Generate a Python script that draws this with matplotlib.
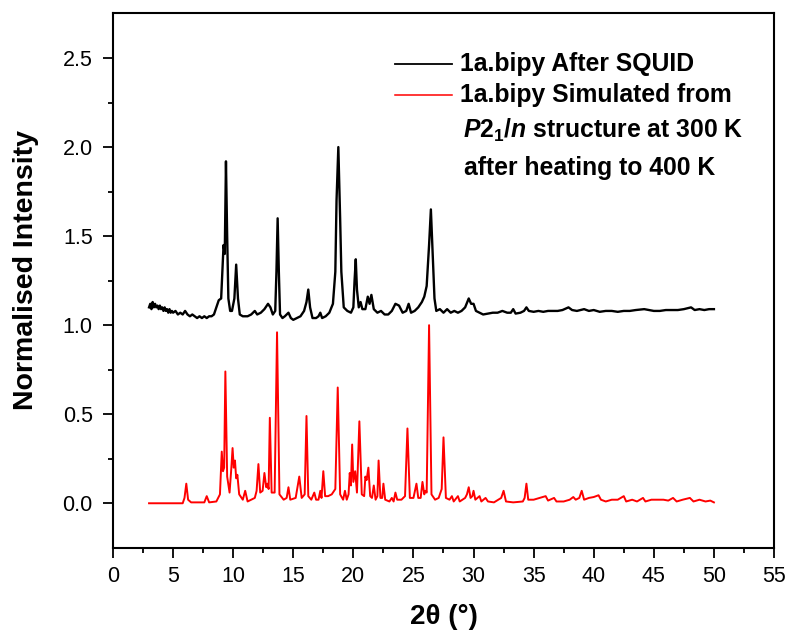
import matplotlib

matplotlib.use("Agg")
import matplotlib.pyplot as plt
import numpy as np

plt.rcParams["font.family"] = ["Liberation Sans", "DejaVu Sans"]
plt.rcParams["mathtext.fontset"] = "custom"
plt.rcParams["mathtext.it"] = "Liberation Sans:italic:bold"
plt.rcParams["mathtext.rm"] = "Liberation Sans:bold"

# measured pattern, 1a.bipy after SQUID (offset by ~1.1)
black_pts = [
    (3.0, 1.10), (3.1, 1.12), (3.2, 1.09), (3.3, 1.13), (3.4, 1.10), (3.5, 1.12), (3.6, 1.10),
    (3.7, 1.11), (3.8, 1.09), (3.9, 1.11), (4.0, 1.09), (4.1, 1.10), (4.2, 1.08), (4.3, 1.10),
    (4.4, 1.08), (4.5, 1.09), (4.6, 1.07), (4.7, 1.09), (4.8, 1.07), (4.9, 1.08), (5.0, 1.07),
    (5.2, 1.08), (5.4, 1.06), (5.6, 1.07), (5.8, 1.06), (6.0, 1.08), (6.1, 1.07),
    (6.2, 1.06), (6.4, 1.05), (6.6, 1.06), (6.8, 1.05), (7.0, 1.04), (7.2, 1.05),
    (7.4, 1.04), (7.6, 1.05), (7.8, 1.04), (8.0, 1.05), (8.2, 1.05), (8.4, 1.06),
    (8.6, 1.10), (8.8, 1.14), (9.0, 1.15), (9.1, 1.30), (9.2, 1.45), (9.3, 1.40),
    (9.4, 1.92), (9.5, 1.50), (9.6, 1.15), (9.75, 1.08), (9.9, 1.08), (10.1, 1.15),
    (10.25, 1.34), (10.4, 1.15), (10.55, 1.06), (10.8, 1.05), (11.2, 1.05), (11.5, 1.06),
    (11.8, 1.08), (12.0, 1.06), (12.3, 1.07), (12.6, 1.09), (12.9, 1.12), (13.1, 1.10),
    (13.3, 1.06), (13.5, 1.08), (13.6, 1.30), (13.7, 1.60), (13.8, 1.30), (13.9, 1.06),
    (14.1, 1.04), (14.3, 1.05), (14.6, 1.07), (14.8, 1.04), (15.0, 1.03), (15.3, 1.04),
    (15.6, 1.05), (15.9, 1.08), (16.1, 1.13), (16.25, 1.20), (16.4, 1.10), (16.6, 1.04),
    (16.9, 1.04), (17.1, 1.05), (17.25, 1.07), (17.4, 1.04), (17.7, 1.05), (18.0, 1.07),
    (18.3, 1.12), (18.5, 1.30), (18.6, 1.70), (18.75, 2.00), (18.9, 1.60), (19.0, 1.30),
    (19.2, 1.10), (19.5, 1.08), (19.8, 1.07), (20.0, 1.10), (20.1, 1.25), (20.2, 1.37),
    (20.3, 1.20), (20.45, 1.10), (20.6, 1.13), (20.75, 1.09), (21.0, 1.09), (21.2, 1.16),
    (21.35, 1.12), (21.5, 1.17), (21.7, 1.09), (22.0, 1.07), (22.3, 1.08), (22.6, 1.06),
    (22.9, 1.06), (23.2, 1.08), (23.5, 1.12), (23.8, 1.11), (24.1, 1.07), (24.4, 1.08),
    (24.6, 1.12), (24.8, 1.07), (25.1, 1.08), (25.4, 1.10), (25.7, 1.13), (25.9, 1.16),
    (26.1, 1.22), (26.3, 1.45), (26.45, 1.65), (26.6, 1.40), (26.75, 1.15), (26.9, 1.08),
    (27.2, 1.09), (27.5, 1.07), (27.8, 1.09), (28.1, 1.07), (28.4, 1.08), (28.7, 1.07),
    (29.0, 1.08), (29.3, 1.10), (29.6, 1.15), (29.8, 1.12), (30.0, 1.12), (30.2, 1.08),
    (30.5, 1.07), (30.8, 1.06), (31.2, 1.065), (31.6, 1.07), (32.0, 1.07), (32.4, 1.08),
    (32.8, 1.07), (33.1, 1.07), (33.3, 1.09), (33.5, 1.065), (33.9, 1.07), (34.2, 1.08),
    (34.4, 1.10), (34.6, 1.08), (35.0, 1.075), (35.4, 1.08), (35.8, 1.075), (36.2, 1.08),
    (36.6, 1.08), (37.0, 1.08), (37.4, 1.085), (37.9, 1.10), (38.2, 1.085), (38.6, 1.08),
    (39.2, 1.09), (39.6, 1.08), (40.0, 1.085), (40.5, 1.075), (41.0, 1.08), (41.5, 1.08),
    (42.0, 1.075), (42.5, 1.08), (43.0, 1.08), (43.5, 1.085), (44.2, 1.09), (44.6, 1.085),
    (45.0, 1.08), (45.5, 1.08), (46.0, 1.085), (46.5, 1.085), (47.0, 1.085), (47.5, 1.09),
    (48.1, 1.10), (48.4, 1.085), (48.8, 1.09), (49.2, 1.085), (49.6, 1.09), (50.0, 1.09),
]

# simulated pattern from P2_1/n structure
red_pts = [
    (3.0, 0.0), (5.8, 0.0), (5.95, 0.03), (6.1, 0.11), (6.25, 0.02), (6.5, 0.005),
    (7.6, 0.005), (7.8, 0.04), (8.0, 0.005), (8.6, 0.01), (8.9, 0.05), (9.05, 0.29),
    (9.15, 0.18), (9.25, 0.20), (9.35, 0.74), (9.5, 0.15), (9.7, 0.06), (9.85, 0.20),
    (9.95, 0.31), (10.05, 0.20), (10.15, 0.24), (10.25, 0.14), (10.35, 0.16), (10.5, 0.05),
    (10.8, 0.02), (11.0, 0.07), (11.2, 0.01), (11.8, 0.03), (11.95, 0.07), (12.1, 0.22),
    (12.25, 0.06), (12.45, 0.07), (12.6, 0.17), (12.75, 0.09), (12.85, 0.11), (12.95, 0.08),
    (13.05, 0.48), (13.2, 0.06), (13.45, 0.06), (13.65, 0.96), (13.85, 0.05), (14.2, 0.02),
    (14.45, 0.03), (14.6, 0.09), (14.75, 0.02), (15.2, 0.03), (15.5, 0.15), (15.7, 0.03),
    (15.95, 0.05), (16.1, 0.49), (16.25, 0.04), (16.5, 0.02), (16.75, 0.06), (16.9, 0.02),
    (17.1, 0.02), (17.25, 0.07), (17.35, 0.03), (17.5, 0.18), (17.65, 0.04), (17.9, 0.04),
    (18.2, 0.05), (18.5, 0.08), (18.7, 0.65), (18.9, 0.05), (19.15, 0.02), (19.3, 0.07),
    (19.45, 0.02), (19.6, 0.05), (19.7, 0.17), (19.8, 0.10), (19.9, 0.33), (20.0, 0.12),
    (20.15, 0.18), (20.3, 0.06), (20.5, 0.46), (20.7, 0.05), (20.9, 0.04), (21.0, 0.15),
    (21.1, 0.13), (21.25, 0.20), (21.4, 0.04), (21.55, 0.03), (21.7, 0.10), (21.85, 0.02),
    (22.0, 0.04), (22.1, 0.24), (22.25, 0.03), (22.4, 0.03), (22.5, 0.11), (22.65, 0.02),
    (23.0, 0.01), (23.2, 0.03), (23.35, 0.01), (23.5, 0.06), (23.65, 0.02), (24.0, 0.02),
    (24.3, 0.04), (24.5, 0.42), (24.7, 0.03), (25.0, 0.03), (25.25, 0.11), (25.4, 0.03),
    (25.6, 0.03), (25.75, 0.12), (25.9, 0.05), (26.0, 0.07), (26.1, 0.06), (26.3, 1.00),
    (26.5, 0.05), (26.8, 0.02), (27.1, 0.03), (27.35, 0.08), (27.5, 0.37), (27.7, 0.03),
    (28.0, 0.02), (28.2, 0.04), (28.35, 0.01), (28.7, 0.04), (28.85, 0.01), (29.3, 0.03),
    (29.45, 0.05), (29.6, 0.09), (29.75, 0.03), (29.9, 0.04), (30.0, 0.07), (30.15, 0.02),
    (30.5, 0.04), (30.65, 0.01), (31.0, 0.03), (31.2, 0.01), (31.7, 0.005), (32.3, 0.03),
    (32.5, 0.07), (32.7, 0.01), (33.3, 0.005), (34.1, 0.01), (34.25, 0.03), (34.4, 0.11),
    (34.55, 0.02), (35.0, 0.02), (35.5, 0.03), (36.0, 0.04), (36.2, 0.015), (36.7, 0.03),
    (36.9, 0.01), (37.5, 0.01), (38.0, 0.02), (38.3, 0.035), (38.5, 0.02), (38.8, 0.03),
    (39.0, 0.07), (39.2, 0.02), (39.6, 0.03), (40.0, 0.035), (40.2, 0.04), (40.4, 0.045),
    (40.6, 0.02), (41.0, 0.01), (41.5, 0.02), (42.0, 0.02), (42.5, 0.04), (42.7, 0.01),
    (43.2, 0.02), (43.6, 0.01), (44.1, 0.03), (44.3, 0.01), (44.8, 0.02), (45.3, 0.02),
    (45.8, 0.02), (46.2, 0.015), (46.6, 0.03), (46.9, 0.01), (47.4, 0.02), (48.0, 0.03),
    (48.3, 0.01), (48.8, 0.02), (49.3, 0.01), (49.7, 0.015), (50.0, 0.005),
]

black_x, black_y = np.array(black_pts).T
red_x, red_y = np.array(red_pts).T

label_black = "1a.bipy After SQUID"
label_red = "1a.bipy Simulated from"
label_red2 = r"$\mathit{P2_1/n}$ structure at 300 K"
label_red3 = "after heating to 400 K"

fig = plt.figure(figsize=(7.89, 6.35), dpi=100)
ax = fig.add_axes([0.1432, 0.1365, 0.981 - 0.1432, 0.979 - 0.1365])

ax.plot(black_x, black_y, color="black", lw=1.7)
ax.plot(red_x, red_y, color="#ff0000", lw=1.4)

ax.set_xlim(0, 55)
ax.set_ylim(-0.253, 2.751)
ax.set_xticks(np.arange(0, 56, 5))
ax.set_xticks(np.arange(2.5, 55, 5), minor=True)
ax.set_yticks([0.0, 0.5, 1.0, 1.5, 2.0, 2.5])
ax.set_yticks(np.arange(0.25, 2.5, 0.5), minor=True)
ax.set_yticklabels(["0.0", "0.5", "1.0", "1.5", "2.0", "2.5"])

for s in ax.spines.values():
    s.set_linewidth(1.5)
ax.tick_params(which="major", direction="out", length=7, width=1.3, labelsize=15.5, pad=6)
ax.tick_params(axis="y", which="major", pad=7.5)
ax.tick_params(which="minor", direction="out", length=3.6, width=1.3)

ax.set_xlabel(r"2θ (°)", fontsize=20, fontweight="bold")
ax.set_ylabel("Normalised Intensity", fontsize=20.5, fontweight="bold")
ax.xaxis.set_label_coords(0.5, -0.105)
ax.yaxis.set_label_coords(-0.112, 0.52)

# legend drawn by hand
ax.plot([0.4266, 0.5129], [0.905, 0.905], color="black", lw=1.3, transform=ax.transAxes)
ax.plot([0.4266, 0.5129], [0.847, 0.847], color="#ff0000", lw=1.1, transform=ax.transAxes)
ax.text(0.525, 0.905, label_black, transform=ax.transAxes, fontsize=17.8, fontweight="bold", va="center")
ax.text(0.525, 0.847, label_red, transform=ax.transAxes, fontsize=17.8, fontweight="bold", va="center")
ax.text(0.529, 0.782, label_red2, transform=ax.transAxes, fontsize=17.8, fontweight="bold", va="center")
ax.text(0.531, 0.711, label_red3, transform=ax.transAxes, fontsize=17.8, fontweight="bold", va="center")

fig.savefig("out.png", dpi=100)
